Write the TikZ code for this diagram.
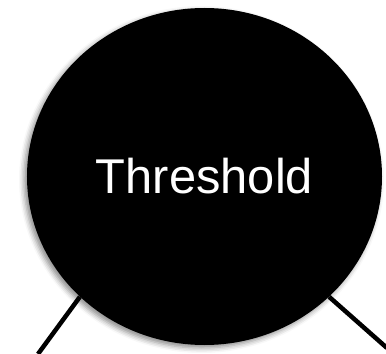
\documentclass[tikz,border=0pt]{standalone}
\usepackage{fontspec}
\setmainfont{Liberation Sans}
\usetikzlibrary{shapes.geometric,shadows.blur}
\begin{document}
\begin{tikzpicture}[x=1bp,y=1bp,
  bigoval/.style={ellipse, fill=black, inner sep=0pt, minimum width=355bp, minimum height=337bp,
    text=white, font=\fontsize{49}{52}\selectfont,
    blur shadow={shadow xshift=-3bp, shadow yshift=-3bp, shadow blur radius=5bp, shadow opacity=45}},
  leg/.style={line width=4.5bp, black}]
\useasboundingbox (0,0) rectangle (386,354);
\node[bigoval] (e) at (204.5,177.5) {\raisebox{2bp}{Threshold}};
\coordinate (lend) at (38,0);
\coordinate (rend) at (387,6);
\draw[leg] (e.224) -- (lend);
\draw[leg] (e.316) -- (rend);
\end{tikzpicture}
\end{document}
